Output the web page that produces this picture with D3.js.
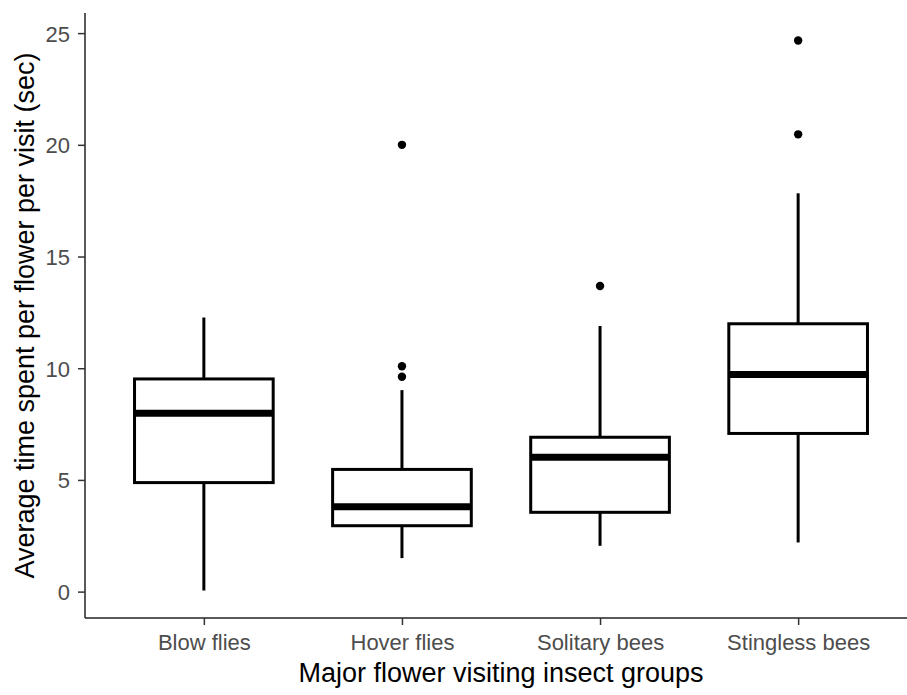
<!DOCTYPE html>
<html>
<head>
<meta charset="utf-8">
<script src="https://cdn.jsdelivr.net/npm/d3@7"></script>
<style>
  body { margin: 0; background: #fff; }
  svg { display: block; font-family: "Liberation Sans", Arial, sans-serif; }
</style>
</head>
<body>
<div id="chart"></div>
<script>
// box summaries (seconds)
const groups = ['Blow flies', 'Hover flies', 'Solitary bees', 'Stingless bees']
const lowerWhisker = [0.05, 1.5, 2.05, 2.2]
const q1 = [4.88, 2.95, 3.55, 7.08]
const median = [7.98, 3.8, 6.02, 9.72]
const q3 = [9.52, 5.47, 6.91, 11.99]
const upperWhisker = [12.27, 9.02, 11.89, 17.83]
const outliers = [[], [9.62, 10.09, 20.0], [13.68], [20.47, 24.67]]
const yTicks = [0, 5, 10, 15, 20, 25]

const width = 907, height = 695
const panel = { left: 85, right: 917, top: 13, bottom: 618 }

const svg = d3.select('#chart').append('svg')
    .attr('width', width)
    .attr('height', height)

const boxes = groups.map((g, i) => ({
    group: g,
    lo: lowerWhisker[i], q1: q1[i], med: median[i], q3: q3[i], hi: upperWhisker[i],
    out: outliers[i]
}))

// ggplot style 5% expansion of the data range
const allVals = boxes.flatMap(d => [d.lo, d.hi, ...d.out])
const [vMin, vMax] = d3.extent(allVals)
const pad = (vMax - vMin) * 0.05

const y = d3.scaleLinear()
    .domain([vMin - pad, vMax + pad])
    .range([panel.bottom, panel.top])

const x = d3.scalePoint()
    .domain(groups)
    .range([panel.left, panel.right])
    .padding(0.6)

const boxW = x.step() * 0.7

// axes
const yAxis = svg.append('g')
    .attr('transform', `translate(${panel.left},0)`)
    .call(d3.axisLeft(y).tickValues(yTicks).tickSize(7).tickPadding(8).tickSizeOuter(0))
const xAxis = svg.append('g')
    .attr('transform', `translate(0,${panel.bottom})`)
    .call(d3.axisBottom(x).tickSize(7).tickPadding(10).tickSizeOuter(0))

yAxis.select('.domain').attr('d', `M0,${panel.top}V${panel.bottom}`)
xAxis.select('.domain').attr('d', `M${panel.left},0H${panel.right}`)

svg.selectAll('.domain').attr('stroke', '#222').attr('stroke-width', 1.5)
svg.selectAll('.tick line').attr('stroke', '#333').attr('stroke-width', 1.5)
svg.selectAll('.tick text')
    .attr('fill', '#4d4d4d')
    .attr('font-size', '22px')
    .attr('font-family', '"Liberation Sans", Arial, sans-serif')
yAxis.selectAll('.tick text').attr('dy', '0.36em')
xAxis.selectAll('.tick text').attr('dy', '0.7em')

// boxes
const box = svg.append('g').selectAll('g').data(boxes).enter()
    .append('g')
    .attr('transform', d => `translate(${x(d.group)},0)`)

box.append('line')
    .attr('y1', d => y(d.q3)).attr('y2', d => y(d.hi))
    .attr('stroke', '#000').attr('stroke-width', 3)
box.append('line')
    .attr('y1', d => y(d.q1)).attr('y2', d => y(d.lo))
    .attr('stroke', '#000').attr('stroke-width', 3)

box.append('rect')
    .attr('x', -boxW / 2)
    .attr('width', boxW)
    .attr('y', d => y(d.q3))
    .attr('height', d => y(d.q1) - y(d.q3))
    .attr('fill', '#fff')
    .attr('stroke', '#000')
    .attr('stroke-width', 3)

box.append('line')
    .attr('x1', -boxW / 2).attr('x2', boxW / 2)
    .attr('y1', d => y(d.med)).attr('y2', d => y(d.med))
    .attr('stroke', '#000').attr('stroke-width', 7)

box.selectAll('circle').data(d => d.out).enter()
    .append('circle')
    .attr('cx', 0)
    .attr('cy', v => y(v))
    .attr('r', 4.2)
    .attr('fill', '#000')

// axis titles
svg.append('text')
    .attr('x', (panel.left + panel.right) / 2)
    .attr('y', 682)
    .attr('text-anchor', 'middle')
    .attr('font-size', '27px')
    .attr('fill', '#000')
    .text('Major flower visiting insect groups')

svg.append('text')
    .attr('transform', `translate(34,${(panel.top + panel.bottom) / 2}) rotate(-90)`)
    .attr('text-anchor', 'middle')
    .attr('font-size', '27px')
    .attr('fill', '#000')
    .text('Average time spent per flower per visit (sec)')
</script>
</body>
</html>
